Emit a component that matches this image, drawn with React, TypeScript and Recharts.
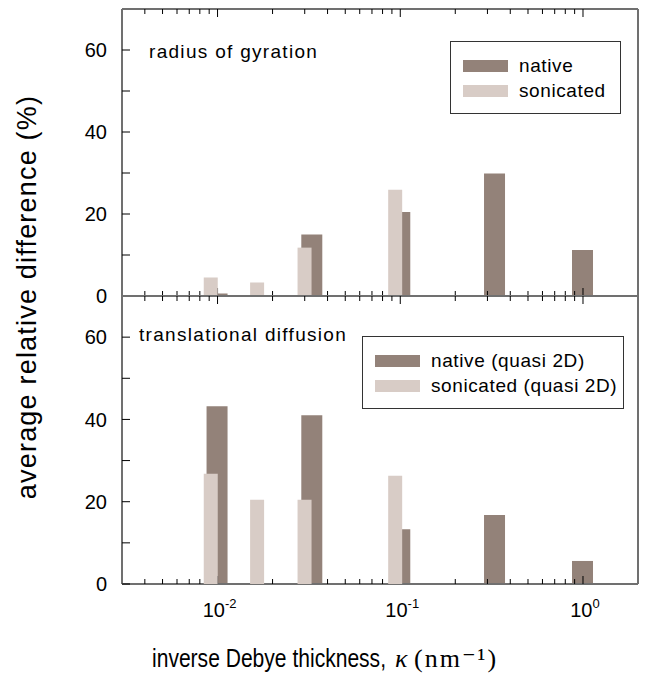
import { Bar, BarChart, XAxis, YAxis } from "recharts";

// kappa (nm^-1) positions of the bars
const kappaNative = [0.01, 0.033, 0.1, 0.33, 1];
const kappaSonicated = [0.0092, 0.0165, 0.03, 0.094];

// average relative difference (%)
const gyrationNative = [0.6, 15.0, 20.5, 29.9, 11.2];
const gyrationSonicated = [4.5, 3.3, 11.8, 25.9];
const diffusionNative = [43.2, 41.0, 13.3, 16.8, 5.6];
const diffusionSonicated = [26.8, 20.5, 20.5, 26.3];

const xTicks = [
  0.004, 0.005, 0.006, 0.007, 0.008, 0.009, 0.01, 0.02, 0.03, 0.04, 0.05, 0.06, 0.07, 0.08, 0.09,
  0.1, 0.2, 0.3, 0.4, 0.5, 0.6, 0.7, 0.8, 0.9, 1,
];
const yTicks = [0, 10, 20, 30, 40, 50, 60];
const yLabels = [0, 20, 40, 60];

const NATIVE = "#938279";
const SONICATED = "#d8ccc6";
const FRAME = "#707070";
const FONT = "'Liberation Sans', Arial, Helvetica, sans-serif";
const SERIF = "'Liberation Serif', 'Times New Roman', 'DejaVu Serif', serif";
const X_DOMAIN: [number, number] = [0.003, 2];

const toRows = (kappa: number[], values: number[]) => kappa.map((k, i) => ({ kappa: k, value: values[i] }));

function XTick(props: any) {
  const { x, y, payload, side, labels } = props;
  const lg = Math.log10(payload.value);
  const exp = Math.round(lg);
  const major = Math.abs(lg - exp) < 1e-6;
  const len = major ? 8 : 5;
  const dir = side === "top" ? 1 : -1;
  return (
    <g>
      <line x1={x} x2={x} y1={y} y2={y + dir * len} stroke="#000" strokeWidth={1} />
      {labels && major && (
        <text x={x + 2} y={y + 33} textAnchor="middle" fontSize={20} fontFamily={FONT} fill="#000">
          10
          <tspan dy={-9} fontSize={13}>
            {String(exp)}
          </tspan>
        </text>
      )}
    </g>
  );
}

function YTick(props: any) {
  const { x, y, payload, side } = props;
  const dir = side === "left" ? 1 : -1;
  const showLabel = side === "left" && yLabels.includes(payload.value);
  return (
    <g>
      <line x1={x} x2={x + dir * 8} y1={y} y2={y} stroke="#000" strokeWidth={1} />
      {showLabel && (
        <text x={x - 15} y={y} dy="0.36em" textAnchor="end" fontSize={20} fontFamily={FONT} fill="#000">
          {payload.value}
        </text>
      )}
    </g>
  );
}

function LegendBox({ left, top, width, items }: any) {
  return (
    <div
      style={{
        position: "absolute",
        left,
        top,
        width,
        height: 73,
        boxSizing: "border-box",
        border: "1px solid #333",
        background: "#fff",
        padding: "11px 0 0 12px",
        fontFamily: FONT,
      }}
    >
      {items.map((it: any) => (
        <div key={it.name} style={{ display: "flex", alignItems: "center", height: 25 }}>
          <span style={{ display: "inline-block", width: 45, height: 12, background: it.color, marginRight: 11 }} />
          <span style={{ fontSize: 19, letterSpacing: 0.6, color: "#000" }}>{it.name}</span>
        </div>
      ))}
    </div>
  );
}

const axisProps = {
  tickSize: 0,
  tickMargin: 0,
  tickLine: false,
  interval: 0 as const,
  axisLine: { stroke: FRAME, strokeWidth: 2 },
};

// native bars + frame and ticks
function NativeChart({ rows, top, bottom, xLabels }: any) {
  return (
    <div style={{ position: "absolute", left: 0, top: 0 }}>
      <BarChart width={654} height={675} data={rows} margin={{ top, right: 15, bottom, left: 121 }}>
        <XAxis
          xAxisId="b"
          orientation="bottom"
          dataKey="kappa"
          type="number"
          scale="log"
          domain={X_DOMAIN}
          allowDataOverflow
          ticks={xTicks}
          height={1}
          {...axisProps}
          tick={(p: any) => <XTick {...p} side="bottom" labels={xLabels} />}
        />
        <XAxis
          xAxisId="t"
          orientation="top"
          dataKey="kappa"
          type="number"
          scale="log"
          domain={X_DOMAIN}
          allowDataOverflow
          ticks={xTicks}
          height={1}
          {...axisProps}
          tick={(p: any) => <XTick {...p} side="top" labels={false} />}
        />
        <YAxis
          yAxisId="l"
          orientation="left"
          type="number"
          domain={[0, 70]}
          ticks={yTicks}
          width={1}
          {...axisProps}
          tick={(p: any) => <YTick {...p} side="left" />}
        />
        <YAxis
          yAxisId="r"
          orientation="right"
          type="number"
          domain={[0, 70]}
          ticks={yTicks}
          width={1}
          {...axisProps}
          tick={(p: any) => <YTick {...p} side="right" />}
        />
        <Bar xAxisId="b" yAxisId="l" dataKey="value" fill={NATIVE} barSize={21} isAnimationActive={false} />
      </BarChart>
    </div>
  );
}

// sonicated bars drawn over the native ones
function SonicatedChart({ rows, top, bottom }: any) {
  return (
    <div style={{ position: "absolute", left: 0, top: 0 }}>
      <BarChart width={654} height={675} data={rows} margin={{ top, right: 16, bottom, left: 122 }}>
        <XAxis dataKey="kappa" type="number" scale="log" domain={X_DOMAIN} allowDataOverflow hide />
        <YAxis type="number" domain={[0, 70]} hide />
        <Bar dataKey="value" fill={SONICATED} barSize={14} isAnimationActive={false} />
      </BarChart>
    </div>
  );
}

export default function App() {
  return (
    <div style={{ position: "absolute", left: 0, top: 0, width: 654, height: 675, background: "#fff" }}>
      {/* radius of gyration: plot y 9..296 */}
      <NativeChart rows={toRows(kappaNative, gyrationNative)} top={8} bottom={378} xLabels={false} />
      <SonicatedChart rows={toRows(kappaSonicated, gyrationSonicated)} top={9} bottom={379} />
      {/* translational diffusion: plot y 296..584 */}
      <NativeChart rows={toRows(kappaNative, diffusionNative)} top={295} bottom={90} xLabels={true} />
      <SonicatedChart rows={toRows(kappaSonicated, diffusionSonicated)} top={296} bottom={91} />

      <LegendBox
        left={450}
        top={41}
        width={171}
        items={[
          { name: "native", color: NATIVE },
          { name: "sonicated", color: SONICATED },
        ]}
      />
      <LegendBox
        left={362}
        top={336}
        width={262}
        items={[
          { name: "native (quasi 2D)", color: NATIVE },
          { name: "sonicated (quasi 2D)", color: SONICATED },
        ]}
      />

      <svg width={654} height={675} style={{ position: "absolute", left: 0, top: 0, pointerEvents: "none" }}>
        <text x={149} y={58} fontSize={19} letterSpacing={1.3} fontFamily={FONT} fill="#000">
          radius of gyration
        </text>
        <text x={139} y={341} fontSize={19} letterSpacing={1.3} fontFamily={FONT} fill="#000">
          translational diffusion
        </text>
        <text
          x={36}
          y={297}
          transform="rotate(-90, 36, 297)"
          textAnchor="middle"
          fontSize={27}
          letterSpacing={1.2}
          fontFamily={FONT}
          fill="#000"
        >
          average relative difference (%)
        </text>
        <text
          x={152}
          y={667}
          fontSize={26}
          textLength={234}
          lengthAdjust="spacingAndGlyphs"
          fontFamily={FONT}
          fill="#000"
        >
          inverse Debye thickness,
        </text>
        <text x={395} y={667} fontSize={26} fontStyle="italic" fontFamily={SERIF} fill="#000">
          κ
        </text>
        <text x={414} y={667} fontSize={26} letterSpacing={2} fontFamily={SERIF} fill="#000">
          (nm⁻¹)
        </text>
      </svg>
    </div>
  );
}
